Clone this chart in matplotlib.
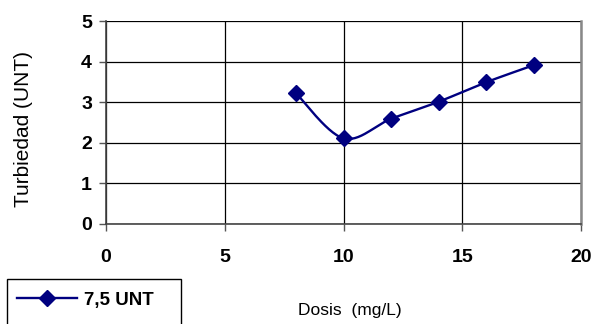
import numpy as np
import matplotlib
matplotlib.use("Agg")
import matplotlib.pyplot as plt
from matplotlib.patches import Rectangle

dosis = [8, 10, 12, 14, 16, 18]
turbiedad = [3.22, 2.11, 2.59, 3.01, 3.49, 3.91]
serie = "7,5 UNT"
xticks = [0, 5, 10, 15, 20]
yticks = [0, 1, 2, 3, 4, 5]

plt.rcParams["font.family"] = ["Liberation Sans", "DejaVu Sans"]


def smooth(x, y, n=30):
    """Catmull-Rom style smoothing through every point."""
    x = np.asarray(x, float)
    y = np.asarray(y, float)
    px = np.concatenate([[x[0]], x, [x[-1]]])
    py = np.concatenate([[y[0]], y, [y[-1]]])
    xs, ys = [], []
    for i in range(1, len(px) - 2):
        p0 = np.array([px[i], py[i]])
        p3 = np.array([px[i + 1], py[i + 1]])
        c1 = p0 + (np.array([px[i + 1], py[i + 1]]) - np.array([px[i - 1], py[i - 1]])) / 6
        c2 = p3 - (np.array([px[i + 2], py[i + 2]]) - np.array([px[i], py[i]])) / 6
        t = np.linspace(0, 1, n)[:, None]
        pts = ((1 - t) ** 3) * p0 + 3 * ((1 - t) ** 2) * t * c1 + 3 * (1 - t) * t ** 2 * c2 + t ** 3 * p3
        xs.extend(pts[:, 0])
        ys.extend(pts[:, 1])
    return np.array(xs), np.array(ys)


W, H = 595, 324
fig = plt.figure(figsize=(W / 100, H / 100), dpi=100)
ax = fig.add_axes([106 / W, 1 - 224 / H, 475 / W, 203 / H])

color = "#000080"
sx, sy = smooth(dosis, turbiedad)
ax.plot(sx, sy, color=color, lw=1.7, zorder=3)
ax.plot(dosis, turbiedad, ls="none", marker="D", ms=8, color=color, zorder=4)
handle, = ax.plot([], [], color=color, lw=1.7, marker="D", ms=8)

ax.set_xlim(0, 20)
ax.set_ylim(0, 5)
ax.set_xticks(xticks)
ax.set_yticks(yticks)
ax.grid(True, color="black", lw=0.9)
ax.set_axisbelow(True)
ax.tick_params(axis="both", direction="out", length=5, width=1, color="#555555", labelsize=14)
ax.tick_params(axis="x", pad=13)
ax.tick_params(axis="y", pad=5)
for lab in ax.get_xticklabels() + ax.get_yticklabels():
    lab.set_fontweight("bold")

ax.spines["top"].set_visible(False)
ax.spines["left"].set_color("#444444")
ax.spines["left"].set_linewidth(1.2)
ax.spines["bottom"].set_color("#444444")
ax.spines["bottom"].set_linewidth(1.2)
ax.spines["right"].set_color("#888888")
ax.spines["right"].set_linewidth(1.8)

fig.text(350 / W, 1 - 310 / H, "Dosis  (mg/L)", ha="center", va="center", fontsize=12.5)
fig.text(24 / W, 1 - 129 / H, "Turbiedad (UNT)", ha="center", va="center",
         rotation=90, fontsize=15)

# legend box, open at the bottom edge of the figure
fig.patches.append(Rectangle((7 / W, -0.05), 174 / W, 1 - 279 / H + 0.05,
                             transform=fig.transFigure, fill=False,
                             edgecolor="black", lw=1.0))
fig.legend([handle], [serie], loc="center left",
           bbox_to_anchor=(17 / W, 1 - 300 / H),
           frameon=False, handlelength=3.2, handletextpad=0.35,
           borderpad=0, borderaxespad=0,
           prop={"weight": "bold", "size": 13.5})

fig.savefig("out.png", dpi=100)
